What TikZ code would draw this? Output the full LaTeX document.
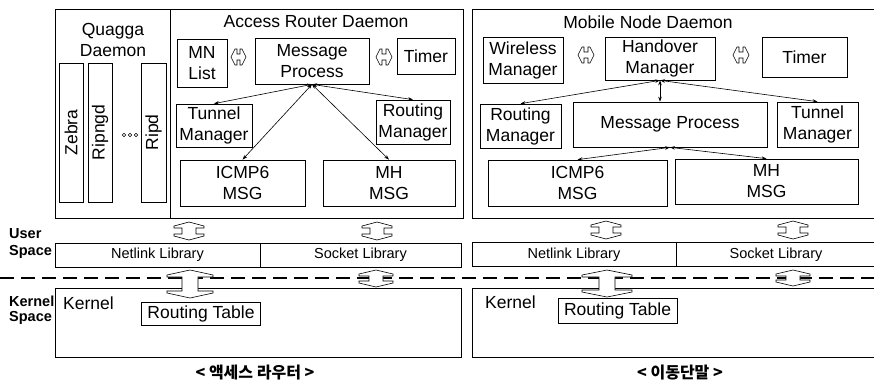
\documentclass[tikz,border=0pt]{standalone}
\usepackage{fontspec}
\setmainfont{Liberation Sans}
\newfontfamily\krfont{Noto Sans CJK KR}
\usetikzlibrary{arrows.meta}

\newcommand{\mainf}{\fontsize{17.5}{21}\selectfont}
\newcommand{\libf}{\fontsize{14.5}{16}\selectfont}

% hollow vertical double arrow: cx, top, length, head half width, shaft half width, head height
\newcommand{\vdarrow}[6]{%
  \pgfmathsetmacro{\arrdw}{#4-#5}%
  \pgfmathsetmacro{\arrsh}{#3-2*#6-4}%
  \filldraw[hollow] (#1,#2) -- ++(#4,#6) -- ++(0,2) -- ++(-\arrdw,0) -- ++(0,\arrsh)
    -- ++(\arrdw,0) -- ++(0,2) -- ++(-#4,#6) -- ++(-#4,-#6) -- ++(0,-2)
    -- ++(\arrdw,0) -- ++(0,-\arrsh) -- ++(-\arrdw,0) -- ++(0,-2) -- cycle;
}
% hollow horizontal double arrow: left, cy, length, head half height, shaft half height, head width
\newcommand{\hdarrow}[6]{%
  \pgfmathsetmacro{\arrdw}{#4-#5}%
  \pgfmathsetmacro{\arrsh}{#3-2*#6-4}%
  \filldraw[hollow] (#1,#2) -- ++(#6,#4) -- ++(2,0) -- ++(0,-\arrdw) -- ++(\arrsh,0)
    -- ++(0,\arrdw) -- ++(2,0) -- ++(#6,-#4) -- ++(-#6,-#4) -- ++(-2,0)
    -- ++(0,\arrdw) -- ++(-\arrsh,0) -- ++(0,-\arrdw) -- ++(-2,0) -- cycle;
}

\tikzset{
  blk/.style={draw, line width=0.7pt, inner sep=0pt, align=center, font=\mainf},
  frame/.style={draw, line width=0.8pt},
  col/.style={draw, line width=0.7pt, inner sep=0pt, minimum width=24pt, minimum height=139pt, font=\mainf},
  lib/.style={draw, line width=0.7pt, inner sep=0pt, minimum height=24pt, font=\libf},
  link/.style={{Stealth[length=5pt,width=3.5pt]}-{Stealth[length=5pt,width=3.5pt]}, line width=0.6pt},
  hollow/.style={draw, fill=white, line width=0.6pt},
  side/.style={anchor=west, inner sep=0pt, font=\bfseries\fontsize{14.5}{15}\selectfont},
  ttl/.style={align=center, font=\mainf},
}

\begin{document}
\begin{tikzpicture}[x=1pt, y=-1pt]
  \useasboundingbox (0,0) rectangle (874,381);

  % access router
  \draw[frame] (55,9) rectangle (170,218);
  \draw[frame] (170,9) rectangle (463,218);
  \node[ttl] (qtitle) at (113,39.5) {Quagga\\Daemon};
  \node[ttl] (artitle) at (316,22) {Access Router Daemon};

  \node[col] (zebra) at (71,132.5) {\rotatebox{90}{Zebra}};
  \node[col] (ripngd) at (100,132.5) {\rotatebox{90}{Ripngd}};
  \node[col, minimum width=25pt] (ripd) at (153.5,132.5) {\rotatebox{90}{Ripd}};
  \foreach \x in {124,130,136}
    \draw[line width=0.6pt] (\x,135) circle (1.8);

  \node[blk, minimum width=50pt, minimum height=48pt] (mnl) at (202,63) {MN\\List};
  \node[blk, minimum width=114pt, minimum height=46pt] (mpl) at (312,61) {Message\\Process};
  \node[blk, minimum width=58pt, minimum height=36pt] (tml) at (426,56) {Timer};
  \node[blk, minimum width=76pt, minimum height=43pt] (tunl) at (214,125.5) {Tunnel\\Manager};
  \node[blk, minimum width=74pt, minimum height=44pt] (rtl) at (413,122) {Routing\\Manager};
  \node[blk, minimum width=125pt, minimum height=46pt] (icl) at (242.5,183) {ICMP6\\MSG};
  \node[blk, minimum width=132pt, minimum height=46pt] (mhl) at (389,183) {MH\\MSG};

  \draw[link] (mpl.south) -- (tunl.north);
  \draw[link] (mpl.south) -- (rtl.north);
  \draw[link] (mpl.south) -- (icl.north);
  \draw[link] (mpl.south) -- (mhl.north);
  \hdarrow{231}{57}{15}{8}{3}{4}
  \hdarrow{376}{57}{16}{8}{3}{4}

  % mobile node
  \draw[frame] (472,9) rectangle (880,218);
  \node[ttl] (mntitle) at (648,22) {Mobile Node Daemon};

  \node[blk, minimum width=80pt, minimum height=46pt] (wlm) at (523,60) {Wireless\\Manager};
  \node[blk, minimum width=110pt, minimum height=43pt] (hom) at (660,58.5) {Handover\\Manager};
  \node[blk, minimum width=85pt, minimum height=40pt] (tmr) at (804.5,57) {Timer};
  \node[blk, minimum width=81pt, minimum height=44pt] (rtr) at (520.5,126) {Routing\\Manager};
  \node[blk, minimum width=194pt, minimum height=45pt] (mpr) at (670,124.5) {Message Process};
  \node[blk, minimum width=81pt, minimum height=45pt] (tunr) at (817.5,124.5) {Tunnel\\Manager};
  \node[blk, minimum width=179pt, minimum height=46pt] (icr) at (577.5,183) {ICMP6\\MSG};
  \node[blk, minimum width=183pt, minimum height=45pt] (mhr) at (766.5,181.5) {MH\\MSG};

  \draw[link] (hom.south) -- (rtr.north);
  \draw[link] (hom.south) -- (hom.south |- mpr.north);
  \draw[link] (hom.south) -- (tunr.north);
  \draw[link] (mpr.south) -- (icr.north);
  \draw[link] (mpr.south) -- (mhr.north);
  \hdarrow{578}{55}{16}{8}{3}{4}
  \hdarrow{733}{55}{16}{8}{3}{4}

  % user space
  \node[side] (user) at (9,234) {User};
  \node[side] (uspace) at (9,252) {Space};
  \node[lib, minimum width=205pt] (nll) at (157.5,255) {Netlink Library};
  \node[lib, minimum width=201pt] (skl) at (360.5,255) {Socket Library};
  \node[lib, minimum width=204pt] (nlr) at (574,254.5) {Netlink Library};
  \node[lib, minimum width=200pt] (skr) at (776,254.5) {Socket Library};
  \vdarrow{189}{222}{18}{15}{7}{4}
  \vdarrow{377}{222}{18}{15}{7}{4}
  \vdarrow{606}{221}{18}{15}{7}{4}
  \vdarrow{793}{221}{18}{15}{7}{4}

  % kernel space
  \node[side] (kern) at (9,301) {Kernel};
  \node[side] (kspace) at (9,318) {Space};
  \draw[frame] (55,288) rectangle (461,357);
  \draw[frame] (472,288) rectangle (880,357);
  \node[anchor=west, inner sep=0pt, font=\mainf] (kl) at (63,303) {Kernel};
  \node[anchor=west, inner sep=0pt, font=\mainf] (kr) at (485,302) {Kernel};
  \node[blk, minimum width=119pt, minimum height=23pt] (rtbl) at (201,313.5) {Routing Table};
  \node[blk, minimum width=119pt, minimum height=25pt] (rtbr) at (617.5,310.5) {Routing Table};

  \draw[line width=1.6pt, dash pattern=on 14pt off 7pt] (0,278) -- (874,278);
  \vdarrow{190}{270}{28}{23}{8}{5}
  \vdarrow{376}{270}{17}{17}{7}{4}
  \vdarrow{607}{270}{27}{25}{8}{5}
  \vdarrow{793}{270}{16}{17}{7}{4}

  % captions
  \node[font=\krfont\bfseries\fontsize{16}{18}\selectfont] (capl) at (255,373) {< 액세스 라우터 >};
  \node[font=\krfont\bfseries\fontsize{16}{18}\selectfont] (capr) at (680,373) {< 이동단말 >};
\end{tikzpicture}
\end{document}
